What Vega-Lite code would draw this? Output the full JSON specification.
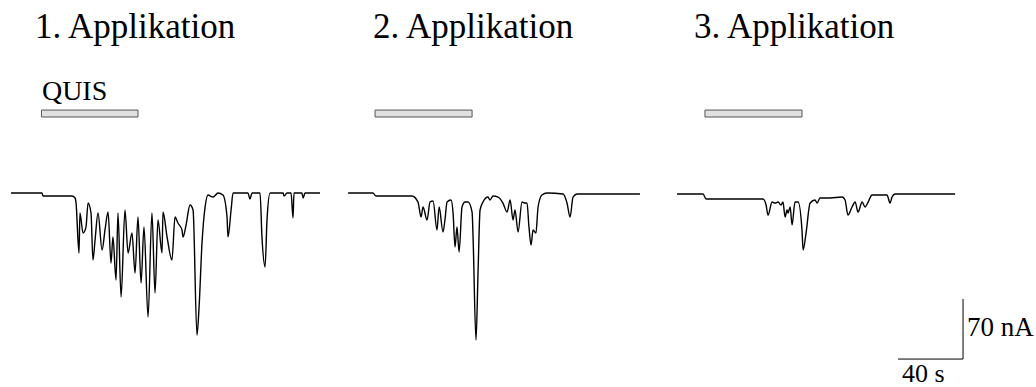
{
  "$schema": "https://vega.github.io/schema/vega-lite/v6.json",
  "width": 1036,
  "height": 387,
  "padding": 0,
  "autosize": {"type": "fit", "contains": "padding"},
  "config": {"view": {"stroke": null}},
  "datasets": {
    "traces": [
      {"s":1,"t":6.8,"I":0},{"s":1,"t":25.8,"I":0},{"s":1,"t":26.5,"I":-3.5},{"s":1,"t":44.3,"I":-3.5},{"s":1,"t":46.2,"I":-5.8},{"s":1,"t":46.8,"I":-11.7},{"s":1,"t":48.6,"I":-70},{"s":1,"t":49.2,"I":-23.3},{"s":1,"t":51.1,"I":-46.7},{"s":1,"t":52.9,"I":-39.7},{"s":1,"t":54.2,"I":-11.7},{"s":1,"t":56.0,"I":-23.3},{"s":1,"t":57.2,"I":-78.2},{"s":1,"t":58.5,"I":-54.8},{"s":1,"t":60.3,"I":-23.3},{"s":1,"t":62.8,"I":-66.5},{"s":1,"t":64.6,"I":-43.2},{"s":1,"t":66.5,"I":-22.2},{"s":1,"t":68.3,"I":-81.7},{"s":1,"t":69.5,"I":-51.3},{"s":1,"t":71.4,"I":-101.5},{"s":1,"t":72.6,"I":-23.3},{"s":1,"t":74.5,"I":-121.3},{"s":1,"t":76.9,"I":-19.8},{"s":1,"t":78.8,"I":-70},{"s":1,"t":81.2,"I":-46.7},{"s":1,"t":83.1,"I":-93.3},{"s":1,"t":84.9,"I":-28},{"s":1,"t":86.8,"I":-105},{"s":1,"t":88.6,"I":-39.7},{"s":1,"t":91.1,"I":-144.7},{"s":1,"t":93.5,"I":-23.3},{"s":1,"t":95.4,"I":-116.7},{"s":1,"t":97.2,"I":-31.5},{"s":1,"t":99.7,"I":-70},{"s":1,"t":100.3,"I":-22.2},{"s":1,"t":102.8,"I":-51.3},{"s":1,"t":105.8,"I":-78.2},{"s":1,"t":107.7,"I":-28},{"s":1,"t":109.5,"I":-35},{"s":1,"t":112.0,"I":-43.2},{"s":1,"t":112.6,"I":-51.3},{"s":1,"t":114.5,"I":-37.3},{"s":1,"t":116.9,"I":-14},{"s":1,"t":118.8,"I":-19.8},{"s":1,"t":121.2,"I":-165.7},{"s":1,"t":122.5,"I":-133},{"s":1,"t":124.3,"I":-58.3},{"s":1,"t":126.2,"I":-16.3},{"s":1,"t":128.0,"I":-2.3},{"s":1,"t":131.1,"I":-4.7},{"s":1,"t":134.2,"I":0},{"s":1,"t":137.2,"I":-2.3},{"s":1,"t":139.7,"I":-28},{"s":1,"t":140.3,"I":-51.3},{"s":1,"t":142.2,"I":-19.8},{"s":1,"t":143.4,"I":0},{"s":1,"t":152.6,"I":0},{"s":1,"t":153.8,"I":-7},{"s":1,"t":155.1,"I":0},{"s":1,"t":160.0,"I":0},{"s":1,"t":161.2,"I":-51.3},{"s":1,"t":163.1,"I":-86.3},{"s":1,"t":164.3,"I":-31.5},{"s":1,"t":166.2,"I":0},{"s":1,"t":174.2,"I":0},{"s":1,"t":174.8,"I":-3.5},{"s":1,"t":176.6,"I":0},{"s":1,"t":179.1,"I":0},{"s":1,"t":180.3,"I":-29.2},{"s":1,"t":180.9,"I":0},{"s":1,"t":185.8,"I":0},{"s":1,"t":186.5,"I":-5.8},{"s":1,"t":187.7,"I":0},{"s":1,"t":196.9,"I":0},
      {"s":2,"t":214.2,"I":0},{"s":2,"t":229.5,"I":0},{"s":2,"t":231.4,"I":-3.5},{"s":2,"t":253.5,"I":-3.5},{"s":2,"t":257.2,"I":-10.5},{"s":2,"t":259.1,"I":-28},{"s":2,"t":260.3,"I":-16.3},{"s":2,"t":262.8,"I":-31.5},{"s":2,"t":264.6,"I":-10.5},{"s":2,"t":266.5,"I":-9.3},{"s":2,"t":268.9,"I":-43.2},{"s":2,"t":270.2,"I":-16.3},{"s":2,"t":272.6,"I":-45.5},{"s":2,"t":273.8,"I":-31.5},{"s":2,"t":275.1,"I":-10.5},{"s":2,"t":277.5,"I":-8.2},{"s":2,"t":278.8,"I":-23.3},{"s":2,"t":280.0,"I":-63},{"s":2,"t":281.2,"I":-39.7},{"s":2,"t":282.5,"I":-68.8},{"s":2,"t":284.3,"I":-16.3},{"s":2,"t":286.2,"I":-10.5},{"s":2,"t":288.0,"I":-10.5},{"s":2,"t":290.5,"I":-22.2},{"s":2,"t":291.1,"I":-51.3},{"s":2,"t":292.9,"I":-171.5},{"s":2,"t":294.2,"I":-89.8},{"s":2,"t":295.4,"I":-19.8},{"s":2,"t":297.2,"I":-10.5},{"s":2,"t":300.3,"I":-4.7},{"s":2,"t":301.5,"I":-8.2},{"s":2,"t":303.4,"I":-3.5},{"s":2,"t":306.5,"I":-4.7},{"s":2,"t":309.5,"I":-11.7},{"s":2,"t":312.0,"I":-22.2},{"s":2,"t":313.9,"I":-8.2},{"s":2,"t":315.7,"I":-31.5},{"s":2,"t":316.9,"I":-19.8},{"s":2,"t":318.8,"I":-45.5},{"s":2,"t":321.2,"I":-10.5},{"s":2,"t":323.1,"I":-11.7},{"s":2,"t":324.3,"I":-11.7},{"s":2,"t":325.5,"I":-39.7},{"s":2,"t":326.8,"I":-60.7},{"s":2,"t":328.0,"I":-43.2},{"s":2,"t":329.8,"I":-46.7},{"s":2,"t":331.1,"I":-16.3},{"s":2,"t":333.5,"I":-2.3},{"s":2,"t":336.6,"I":0},{"s":2,"t":346.5,"I":-1.2},{"s":2,"t":348.9,"I":-11.7},{"s":2,"t":350.8,"I":-28},{"s":2,"t":352.6,"I":-4.7},{"s":2,"t":355.1,"I":-1.2},{"s":2,"t":393.8,"I":-1.2},
      {"s":3,"t":416.6,"I":-1.2},{"s":3,"t":432.6,"I":-1.2},{"s":3,"t":434.5,"I":-7},{"s":3,"t":469.5,"I":-7},{"s":3,"t":471.4,"I":-14},{"s":3,"t":472.6,"I":-25.7},{"s":3,"t":475.1,"I":-10.5},{"s":3,"t":476.9,"I":-11.7},{"s":3,"t":478.8,"I":-10.5},{"s":3,"t":480.6,"I":-14},{"s":3,"t":481.8,"I":-10.5},{"s":3,"t":483.1,"I":-28},{"s":3,"t":484.3,"I":-19.8},{"s":3,"t":484.9,"I":-23.3},{"s":3,"t":486.2,"I":-16.3},{"s":3,"t":487.4,"I":-37.3},{"s":3,"t":489.2,"I":-10.5},{"s":3,"t":491.1,"I":-10.5},{"s":3,"t":493.5,"I":-43.2},{"s":3,"t":494.2,"I":-66.5},{"s":3,"t":496.0,"I":-46.7},{"s":3,"t":498.5,"I":-11.7},{"s":3,"t":501.5,"I":-8.2},{"s":3,"t":502.8,"I":-11.7},{"s":3,"t":504.6,"I":-5.8},{"s":3,"t":510.8,"I":-5.8},{"s":3,"t":518.2,"I":-4.7},{"s":3,"t":520.0,"I":-8.2},{"s":3,"t":521.8,"I":-25.7},{"s":3,"t":524.3,"I":-16.3},{"s":3,"t":526.2,"I":-10.5},{"s":3,"t":528.0,"I":-22.2},{"s":3,"t":530.5,"I":-10.5},{"s":3,"t":532.3,"I":-16.3},{"s":3,"t":534.2,"I":-10.5},{"s":3,"t":536.6,"I":-2.3},{"s":3,"t":545.8,"I":-2.3},{"s":3,"t":547.7,"I":-11.7},{"s":3,"t":548.9,"I":-4.7},{"s":3,"t":550.8,"I":-1.2},{"s":3,"t":587.7,"I":-1.2}
    ],
    "bars": [
      {"a":25.5,"b":84.9,"top":96.8,"bot":88.7},
      {"a":230.8,"b":290.5,"top":96.8,"bot":88.7},
      {"a":433.8,"b":493.5,"top":96.8,"bot":88.7}
    ],
    "titles": [
      {"t":21.5,"I":180.8,"label":"1. Applikation"},
      {"t":229.5,"I":180.8,"label":"2. Applikation"},
      {"t":427.0,"I":180.8,"label":"3. Applikation"}
    ],
    "small": [
      {"t":25.8,"I":108.5,"label":"QUIS","size":28},
      {"t":595.0,"I":-166.8,"label":"70 nA","size":27},
      {"t":555.0,"I":-220.5,"label":"40 s","size":26}
    ],
    "scalebar": [
      {"x":592.6,"x2":592.6,"y":-123.7,"y2":-193.7},
      {"x":552.6,"x2":592.6,"y":-193.7,"y2":-193.7}
    ]
  },
  "layer": [
    {
      "data": {"name": "traces"},
      "mark": {"type": "line", "color": "#000000", "strokeWidth": 1.4, "interpolate": "monotone", "clip": true},
      "encoding": {
        "x": {"field": "t", "type": "quantitative", "axis": null, "scale": {"domain": [0, 637.5], "nice": false, "zero": false}},
        "y": {"field": "I", "type": "quantitative", "axis": null, "scale": {"domain": [-226.3, 225.2], "nice": false, "zero": false}},
        "detail": {"field": "s", "type": "nominal"}
      }
    },
    {
      "data": {"name": "bars"},
      "mark": {"type": "rect", "fill": "#e0e0e0", "stroke": "#555555", "strokeWidth": 1, "clip": true},
      "encoding": {
        "x": {"field": "a", "type": "quantitative", "axis": null, "scale": {"domain": [0, 637.5], "nice": false, "zero": false}},
        "x2": {"field": "b"},
        "y": {"field": "top", "type": "quantitative", "axis": null, "scale": {"domain": [-226.3, 225.2], "nice": false, "zero": false}},
        "y2": {"field": "bot"}
      }
    },
    {
      "data": {"name": "titles"},
      "mark": {"type": "text", "font": "Liberation Serif", "fontSize": 35, "align": "left", "baseline": "alphabetic", "color": "#000000", "clip": true},
      "encoding": {
        "x": {"field": "t", "type": "quantitative", "axis": null, "scale": {"domain": [0, 637.5], "nice": false, "zero": false}},
        "y": {"field": "I", "type": "quantitative", "axis": null, "scale": {"domain": [-226.3, 225.2], "nice": false, "zero": false}},
        "text": {"field": "label", "type": "nominal"}
      }
    },
    {
      "data": {"name": "small"},
      "mark": {"type": "text", "font": "Liberation Serif", "align": "left", "baseline": "alphabetic", "color": "#000000", "clip": true},
      "encoding": {
        "x": {"field": "t", "type": "quantitative", "axis": null, "scale": {"domain": [0, 637.5], "nice": false, "zero": false}},
        "y": {"field": "I", "type": "quantitative", "axis": null, "scale": {"domain": [-226.3, 225.2], "nice": false, "zero": false}},
        "text": {"field": "label", "type": "nominal"},
        "size": {"field": "size", "type": "quantitative", "scale": null}
      }
    },
    {
      "data": {"name": "scalebar"},
      "mark": {"type": "rule", "color": "#000000", "strokeWidth": 1, "clip": true},
      "encoding": {
        "x": {"field": "x", "type": "quantitative", "axis": null, "scale": {"domain": [0, 637.5], "nice": false, "zero": false}},
        "x2": {"field": "x2"},
        "y": {"field": "y", "type": "quantitative", "axis": null, "scale": {"domain": [-226.3, 225.2], "nice": false, "zero": false}},
        "y2": {"field": "y2"}
      }
    }
  ]
}
